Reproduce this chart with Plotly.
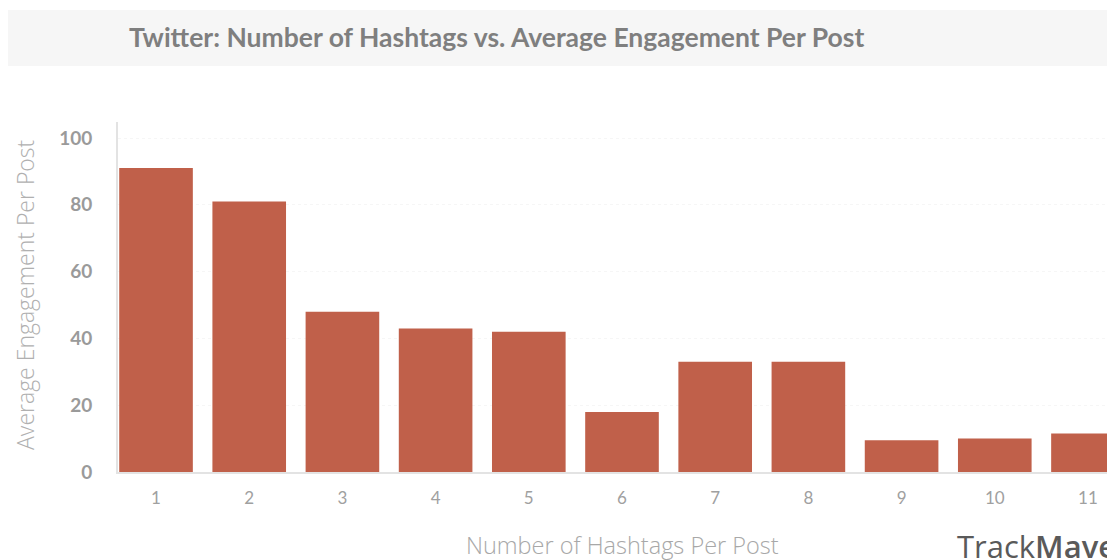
import plotly.graph_objects as go

hashtags = [1, 2, 3, 4, 5, 6, 7, 8, 9, 10, 11]
engagement = [91, 81, 48, 43, 42, 18, 33, 33, 9.5, 10, 11.5]
y_ticks = [0, 20, 40, 60, 80, 100]

W, H = 1115, 560
OFF = 8  # page body margin offset
L, T, B, R = 118 - OFF, 122 - OFF, 560 - (472 - OFF), OFF
PW, PH = W - L - R, H - T - B


def px(x):
    return (x - OFF - L) / PW


def py(y):
    return (H - B - (y - OFF)) / PH


fig = go.Figure(go.Bar(
    x=hashtags, y=engagement, width=0.79,
    marker=dict(color="#C0604A", line=dict(width=0)),
))

fig.update_layout(
    width=W, height=H,
    margin=dict(l=L, r=R, t=T, b=B),
    paper_bgcolor="white", plot_bgcolor="white",
    showlegend=False,
    font=dict(family="Lato, Open Sans, sans-serif", color="#999"),
    xaxis=dict(range=[0.592, 11.29], tickvals=hashtags, showgrid=False,
               showline=True, linecolor="#e3e3e3", linewidth=2,
               ticks="", ticklabelstandoff=10, zeroline=False,
               tickfont=dict(size=17, color="#a0a0a0")),
    yaxis=dict(range=[0, 104.8], tickvals=y_ticks, showgrid=True,
               gridcolor="#f6f6f6", griddash="dot", gridwidth=1,
               showline=True, linecolor="#e3e3e3", linewidth=2,
               ticks="", ticklabelstandoff=20, zeroline=False,
               tickfont=dict(size=19, color="#9a9a9a",
                             family="Lato, sans-serif", weight="bold")),
    shapes=[dict(type="rect", xref="paper", yref="paper",
                 x0=px(8), x1=px(1130), y0=py(66), y1=py(10),
                 fillcolor="#f6f6f6", line=dict(width=0), layer="below")],
    annotations=[
        dict(text="<b>Twitter: Number of Hashtags vs. Average Engagement Per Post</b>",
             xref="paper", yref="paper", x=px(127), y=py(37),
             xanchor="left", yanchor="middle", showarrow=False,
             font=dict(size=26.5, color="#7f7f7f", family="Lato, sans-serif")),
        dict(text="Average Engagement Per Post", xref="paper", yref="paper",
             x=px(25), y=py(295), textangle=-90, xanchor="center", yanchor="middle",
             showarrow=False,
             font=dict(size=23, color="#b0b0b0", family="Open Sans, sans-serif", weight=300)),
        dict(text="Number of Hashtags Per Post", xref="paper", yref="paper",
             x=px(622), y=py(545), xanchor="center", yanchor="middle",
             showarrow=False,
             font=dict(size=23.5, color="#a8a8a8", family="Open Sans, sans-serif", weight=300)),
        dict(text="Track<span style=\"font-weight:600\">Maven</span>",
             xref="paper", yref="paper",
             x=px(955), y=py(546), xanchor="left", yanchor="middle",
             showarrow=False,
             font=dict(size=31, color="#5a5a5a", family="Open Sans, sans-serif")),
    ],
)

fig.write_html("out.html")
